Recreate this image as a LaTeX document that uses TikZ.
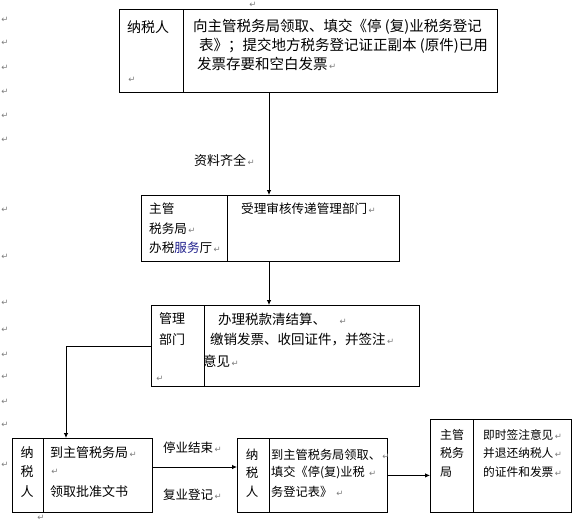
\documentclass[tikz,border=0pt]{standalone}
\usepackage{fontspec}
\setmainfont{Liberation Sans}
\newfontfamily\cjk{Noto Sans CJK SC}
\newfontfamily\dejavu{DejaVu Sans}
\usetikzlibrary{arrows.meta,calc}
\definecolor{markgray}{RGB}{125,125,125}
\definecolor{wordblue}{RGB}{30,30,140}
\newcommand\rmk{{\dejavu\fontsize{8.5}{8.5}\selectfont\color{markgray}\,↵}}
\newcommand\fs[1]{\cjk\fontsize{#1}{#1}\selectfont}
\begin{document}
\begin{tikzpicture}[x=1pt,y=-1pt,
  cell/.style={draw,line width=0.8pt,inner sep=0,anchor=north west},
  txt/.style={anchor=west,inner sep=0},
  mk/.style={inner sep=0,font=\dejavu\fontsize{8.5}{8.5}\selectfont,text=markgray},
  arr/.style={line width=0.8pt,-{Latex[length=5pt,width=4.5pt]}}]
\useasboundingbox (0,0) rectangle (583,523);

% ---- boxes (cells)
\node[cell,minimum width=64pt,minimum height=83pt] (b1L) at (119,9) {};
\node[cell,minimum width=314pt,minimum height=83pt] (b1R) at (183,9) {};
\node[cell,minimum width=86pt,minimum height=66pt] (b2L) at (141,195) {};
\node[cell,minimum width=172pt,minimum height=66pt] (b2R) at (227,195) {};
\node[cell,minimum width=53pt,minimum height=81pt] (b3L) at (151,305) {};
\node[cell,minimum width=215pt,minimum height=81pt] (b3R) at (204,305) {};
\node[cell,minimum width=31pt,minimum height=74pt] (b4L) at (12,438) {};
\node[cell,minimum width=109pt,minimum height=74pt] (b4R) at (43,438) {};
\node[cell,minimum width=32pt,minimum height=74pt] (b5L) at (237,438) {};
\node[cell,minimum width=118pt,minimum height=74pt] (b5R) at (269,438) {};
\node[cell,minimum width=43pt,minimum height=93pt] (b6L) at (430,419) {};
\node[cell,minimum width=98pt,minimum height=93pt] (b6R) at (473,419) {};

% ---- box 1 text
\node[txt,font=\fs{14}] (t1a) at (127,27) {纳税人};
\node[txt,font=\fs{14.5}] (t1b) at (193,27) {向主管税务局领取、填交《停 (复)业税务登记};
\node[txt,font=\fs{14.5}] (t1c) at (199,46) {表》；提交地方税务登记证正副本 (原件)已用};
\node[txt,font=\fs{14.5}] (t1d) at (197,64) {发票存要和空白发票\rmk};

% ---- box 2 text
\node[txt,font=\fs{12.6}] (t2a) at (149,209) {主管};
\node[txt,font=\fs{12.6}] (t2b) at (149,229) {税务局\rmk};
\node[txt,font=\fs{12.6}] (t2c) at (149,248) {办税{\color{wordblue}服务}厅\rmk};
\node[txt,font=\fs{12.6}] (t2d) at (241,209) {受理审核传递管理部门\rmk};

% ---- box 3 text
\node[txt,font=\fs{13}] (t3a) at (159,319) {管理};
\node[txt,font=\fs{13}] (t3b) at (159,340) {部门};
\node[txt,font=\fs{13.5}] (t3c) at (218,319) {办理税款清结算、\hspace{12pt}\rmk};
\node[txt,font=\fs{13.5}] (t3d) at (210,340) {缴销发票、收回证件，并签注\rmk};
\node[txt,font=\fs{13.5}] (t3e) at (203,361) {意见\rmk};

% ---- box 4 text
\node[font=\fs{13},inner sep=0] (t4a) at (27,453) {纳};
\node[font=\fs{13},inner sep=0] (t4b) at (27,472) {税};
\node[font=\fs{13},inner sep=0] (t4c) at (27,492) {人};
\node[txt,font=\fs{13}] (t4d) at (50,453) {到主管税务局\rmk};
\node[txt,font=\fs{13}] (t4e) at (50,492) {领取批准文书};

% ---- box 5 text
\node[font=\fs{12.5},inner sep=0] (t5a) at (252,455) {纳};
\node[font=\fs{12.5},inner sep=0] (t5b) at (252,473) {税};
\node[font=\fs{12.5},inner sep=0] (t5c) at (252,492) {人};
\node[txt,font=\fs{12.2}] (t5d) at (271,455) {到主管税务局领取、\rmk};
\node[txt,font=\fs{12.2}] (t5e) at (271,473) {填交《停(复)业税 \rmk};
\node[txt,font=\fs{12.2}] (t5f) at (271,492) {务登记表》 \rmk};

% ---- box 6 text
\node[txt,font=\fs{12}] (t6a) at (440,435) {主管};
\node[txt,font=\fs{12}] (t6b) at (440,453) {税务};
\node[txt,font=\fs{12}] (t6c) at (440,472) {局};
\node[txt,font=\fs{11.7}] (t6d) at (483,435) {即时签注意见\rmk};
\node[txt,font=\fs{11.7}] (t6e) at (483,453) {并退还纳税人\rmk};
\node[txt,font=\fs{11.7}] (t6f) at (483,472) {的证件和发票\rmk};

% ---- connector labels
\node[txt,font=\fs{13}] (l1) at (194,160) {资料齐全\rmk};
\node[txt,font=\fs{12.5}] (l2) at (163,448) {停业结束\rmk};
\node[txt,font=\fs{12.5}] (l3) at (163,495) {复业登记\rmk};

% ---- connectors
\coordinate (cx) at (269,0);
\coordinate (cl) at (66,0);
\coordinate (cy) at (0,467);
\draw[arr] (b1R.south -| cx) -- (b2R.north -| cx);
\draw[arr] (b2R.south -| cx) -- (b3R.north -| cx);
\draw[arr] (b3L.west) -| (b4R.north -| cl);
\draw[arr] (b4R.east |- cy) -- (b5L.west |- cy);
\draw[arr] (b5R.east) -- (b6L.west |- b5R.east);

% ---- paragraph marks
\foreach \i/\px/\py in {1/5/20,2/5/43,3/5/68,4/5/92,5/5/116,6/5/140,7/5/210,8/5/257,
  9/5/303,10/5/330,11/5/355,12/5/377,13/5/402,14/5/425,15/5/465,16/41/518,17/253/5,
  18/132/80,19/160/379,20/55/472}
  \node[mk] (m\i) at (\px,\py) {↵};
\end{tikzpicture}
\end{document}
